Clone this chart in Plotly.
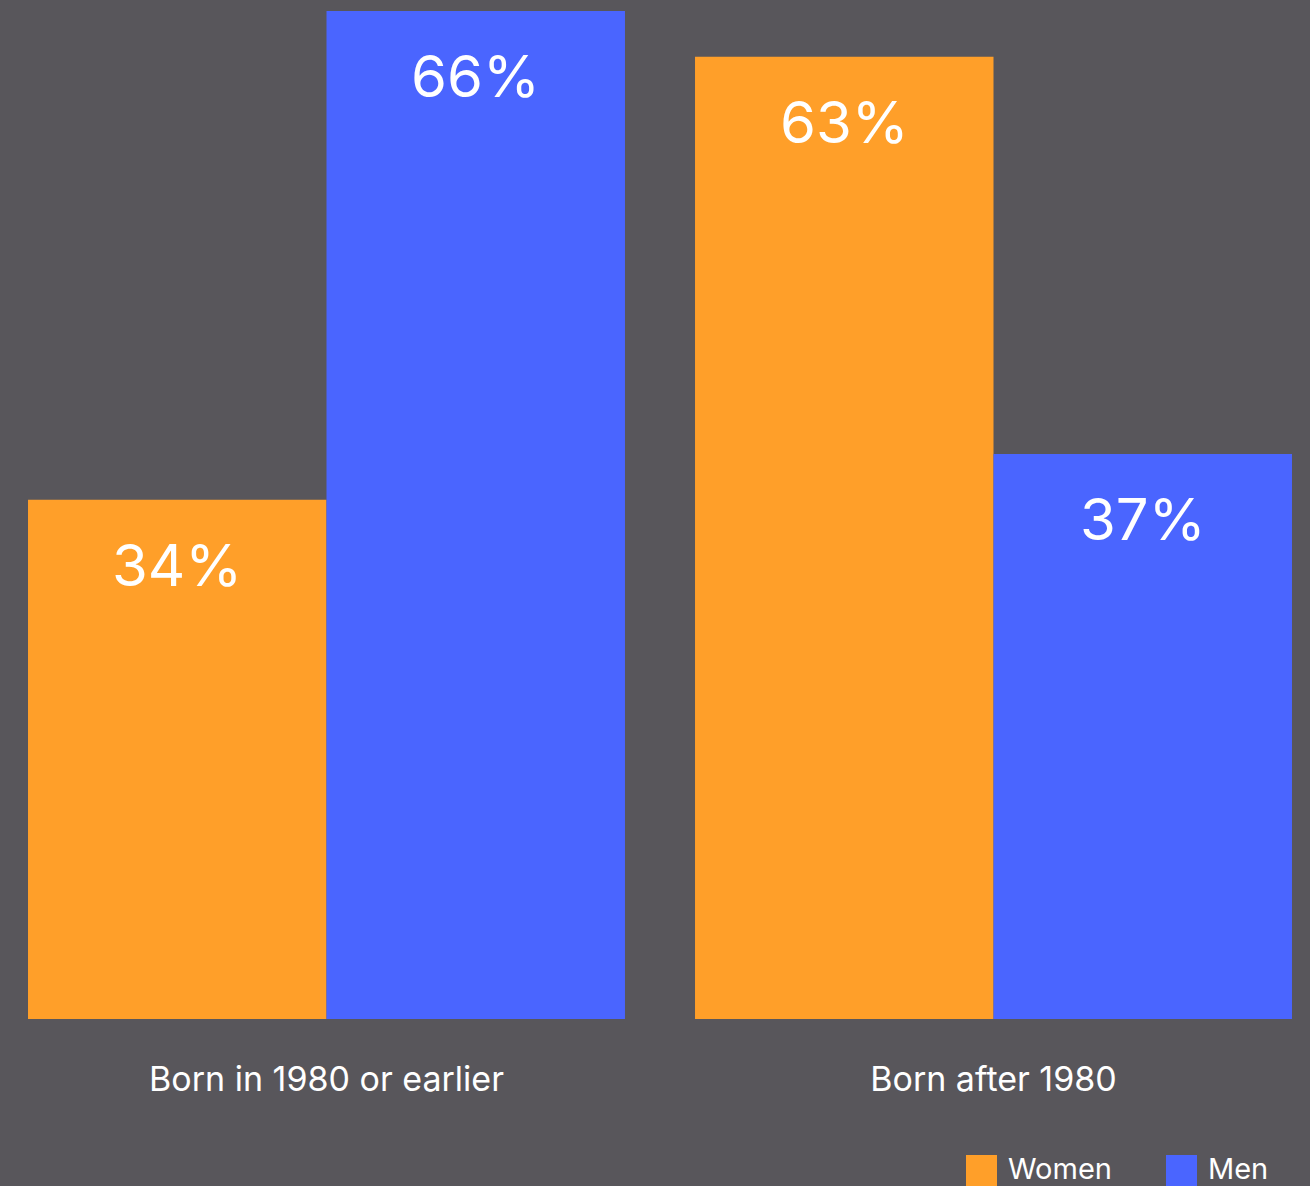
import plotly.graph_objects as go

# Share of each birth cohort, by gender (percent)
categories = ["Born in 1980 or earlier", "Born after 1980"]
women = [34, 63]
men = [66, 37]
series_names = ["Women", "Men"]

BG = "#58565B"
ORANGE = "#FF9F29"
BLUE = "#4A65FF"
FONT = "Inter"

BARGAP = 0.105
bar_w = (1 - BARGAP) / 2

fig = go.Figure()
fig.add_trace(go.Bar(x=categories, y=women, name=series_names[0],
                     marker=dict(color=ORANGE, line=dict(width=0))))
fig.add_trace(go.Bar(x=categories, y=men, name=series_names[1],
                     marker=dict(color=BLUE, line=dict(width=0))))

# value labels near the top of each bar
for i in range(len(categories)):
    for vals, off in ((women, -bar_w / 2), (men, bar_w / 2)):
        fig.add_annotation(x=i + off, y=vals[i], xref="x", yref="y",
                           text=f"{vals[i]}%", showarrow=False,
                           yanchor="top", yshift=-28,
                           font=dict(family=FONT, size=58, color="white"))

# legend drawn at the bottom right
legend_items = [(series_names[0], ORANGE, 966), (series_names[1], BLUE, 1166)]
for name, col, px in legend_items:
    fig.add_shape(type="rect", xref="paper", yref="paper",
                  x0=px / 1310, x1=(px + 31) / 1310,
                  y0=(1019 - 1155) / 1008, y1=(1019 - 1190) / 1008,
                  fillcolor=col, line=dict(width=0))
    fig.add_annotation(xref="paper", yref="paper", x=(px + 40) / 1310,
                       y=(1019 - 1168) / 1008, text=name, showarrow=False,
                       xanchor="left", yanchor="middle",
                       font=dict(family=FONT, size=29, color="white"))

fig.update_layout(
    width=1310, height=1186,
    margin=dict(l=0, r=0, t=11, b=167),
    paper_bgcolor=BG, plot_bgcolor=BG,
    barmode="group", bargap=BARGAP, bargroupgap=0,
    showlegend=False,
    font=dict(family=FONT, color="white"),
)
fig.update_xaxes(range=[-0.4895, 1.4745], showgrid=False, zeroline=False,
                 showline=False, ticks="", ticklabelstandoff=37,
                 tickfont=dict(family=FONT, size=34, color="white"))
fig.update_yaxes(range=[0, 66], visible=False, showgrid=False)

fig.write_html("out.html")
